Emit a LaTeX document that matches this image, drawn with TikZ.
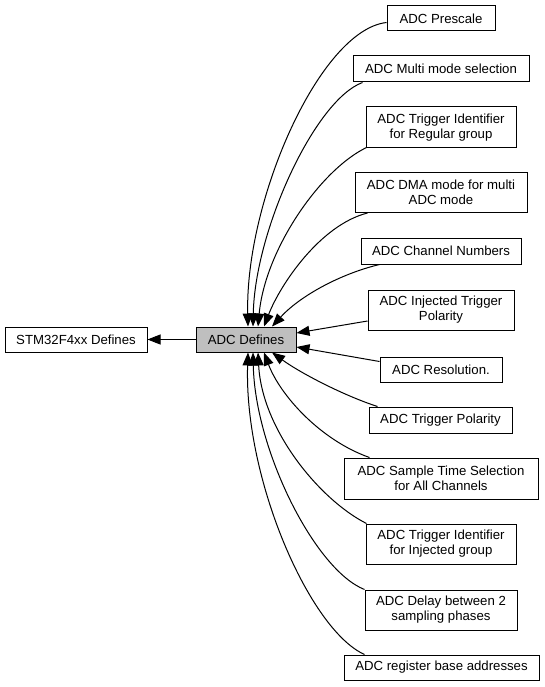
\documentclass[tikz,border=0pt]{standalone}
\usepackage{fontspec}
\setmainfont{Liberation Sans}
\usetikzlibrary{arrows.meta,calc}
\definecolor{nodegray}{HTML}{BFBFBF}
\begin{document}
\begin{tikzpicture}[x=1pt,y=-1pt,
  box/.style={draw=black,line width=1pt,rectangle,inner sep=0pt,align=center,
    font=\fontsize{13.2}{15}\selectfont},
  edge/.style={draw=black,line width=1pt,-{Triangle[length=13pt,width=10pt]}}]
\useasboundingbox (0,0) rectangle (544,687);
\fill[white] (0,0) rectangle (544,687);
% nodes
\node[box,minimum width=142pt,minimum height=25pt] (stm) at (76,339.5) {STM32F4xx Defines};
\node[box,fill=nodegray,minimum width=100pt,minimum height=25pt] (adc) at (246,339.5) {ADC Defines};
\node[box,minimum width=108pt,minimum height=25pt] (prescale) at (441,18.5) {ADC Prescale};
\node[box,minimum width=176pt,minimum height=26pt] (multi) at (441,69) {ADC Multi mode selection};
\node[box,minimum width=150pt,minimum height=41pt] (trigreg) at (441,127.5) {ADC Trigger Identifier\\for Regular group};
\node[box,minimum width=172pt,minimum height=40pt] (dma) at (441,192.5) {ADC DMA mode for multi\\ADC mode};
\node[box,minimum width=160pt,minimum height=26pt] (chan) at (441,251) {ADC Channel Numbers};
\node[box,minimum width=146pt,minimum height=40pt] (injpol) at (441,310) {ADC Injected Trigger\\Polarity};
\node[box,minimum width=122pt,minimum height=25pt] (res) at (441,369.5) {ADC Resolution.};
\node[box,minimum width=143pt,minimum height=26pt] (trigpol) at (440.5,420) {ADC Trigger Polarity};
\node[box,minimum width=194pt,minimum height=41pt] (sample) at (441,478.5) {ADC Sample Time Selection\\for All Channels};
\node[box,minimum width=150pt,minimum height=40pt] (triginj) at (441,544) {ADC Trigger Identifier\\for Injected group};
\node[box,minimum width=152pt,minimum height=40pt] (delay) at (441,610) {ADC Delay between 2\\sampling phases};
\node[box,minimum width=195pt,minimum height=25pt] (regbase) at (441.5,667.5) {ADC register base addresses};
% edges
\draw[edge] (adc) -- (stm);
\draw[edge] ($(prescale.west)+(0,4)$) .. controls (320,30) and (245,200) .. ($(adc.north)+(2,0)$);
\draw[edge] ($(multi.south west)+(10,0)$) .. controls (315,100) and (255,230) .. ($(adc.north)+(7,0)$);
\draw[edge] ($(trigreg.south west)+(1,-1)$) .. controls (320,170) and (265,250) .. ($(adc.north)+(12,0)$);
\draw[edge] ($(dma.south west)+(13,0)$) .. controls (320,225) and (280,285) .. ($(adc.north)+(18,0)$);
\draw[edge] ($(chan.south west)+(19,0)$) .. controls (340,274) and (300,296) .. ($(adc.north)+(26,0)$);
\draw[edge] ($(injpol.west)+(0,11)$) -- ($(adc.east)+(0,-6.5)$);
\draw[edge] ($(res.west)+(0,-8)$) -- ($(adc.east)+(0,7.5)$);
\draw[edge] ($(trigpol.north west)+(9,0)$) .. controls (345,396) and (302,374) .. ($(adc.south)+(26,0)$);
\draw[edge] ($(sample.north west)+(26,0)$) .. controls (320,440) and (280,395) .. ($(adc.south)+(18,0)$);
\draw[edge] ($(triginj.north west)+(1,0)$) .. controls (320,500) and (262,430) .. ($(adc.south)+(12,0)$);
\draw[edge] (delay.north west) .. controls (315,570) and (255,450) .. ($(adc.south)+(7,0)$);
\draw[edge] ($(regbase.north west)+(21,0)$) .. controls (310,630) and (244,480) .. ($(adc.south)+(2,0)$);
\end{tikzpicture}
\end{document}
